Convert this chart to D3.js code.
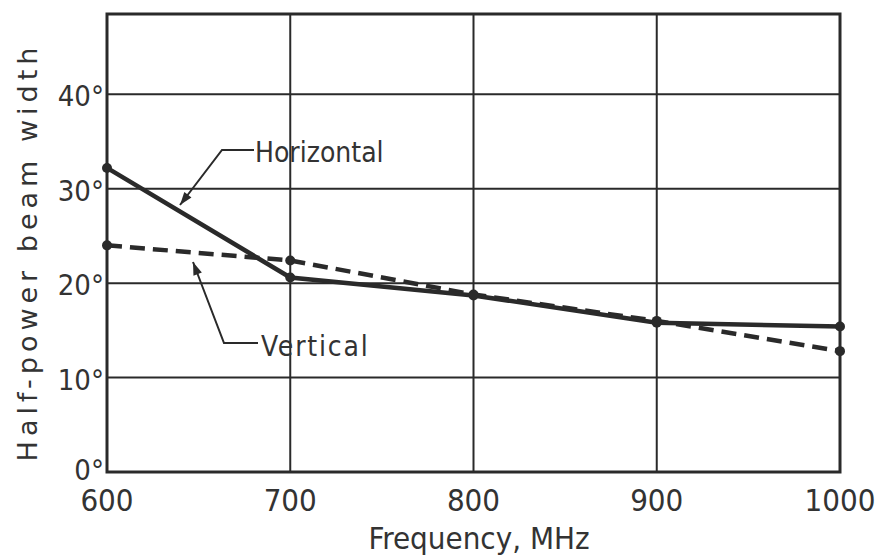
<!DOCTYPE html>
<html>
<head>
<meta charset="utf-8">
<script src="https://cdn.jsdelivr.net/npm/d3@7"></script>
<style>
  body { margin: 0; background: #fff; }
  text { font-family: "DejaVu Sans Condensed", "DejaVu Sans", sans-serif; fill: #333; }
</style>
</head>
<body>
<svg id="chart" width="878" height="557"></svg>
<script>
// Frequency, MHz
var frequencies = [600, 700, 800, 900, 1000];
// Half-power beam width, degrees
var horizontal = [32.2, 20.6, 18.7, 15.8, 15.4];
var vertical = [24.0, 22.4, 18.8, 16.0, 12.8];
var yTicks = [0, 10, 20, 30, 40];
var xTicks = [600, 700, 800, 900, 1000];

var svg = d3.select("#chart"),
    plotLeft = 107,
    plotRight = 840,
    plotTop = 14,
    plotBottom = 472;

var x = d3.scaleLinear().domain([600, 1000]).range([plotLeft, plotRight]),
    y = d3.scaleLinear().domain([0, 48.5]).range([plotBottom, plotTop]);

var ink = "#2a2a2a";

// Grid lines
svg.append("g").selectAll("line")
    .data(yTicks.slice(1))
    .enter().append("line")
    .attr("x1", plotLeft).attr("x2", plotRight)
    .attr("y1", function (d) { return y(d); })
    .attr("y2", function (d) { return y(d); })
    .style("stroke", ink).style("stroke-width", 2);

svg.append("g").selectAll("line")
    .data(xTicks.slice(1, -1))
    .enter().append("line")
    .attr("x1", function (d) { return x(d); })
    .attr("x2", function (d) { return x(d); })
    .attr("y1", plotTop).attr("y2", plotBottom)
    .style("stroke", ink).style("stroke-width", 2);

// Frame
svg.append("rect")
    .attr("x", plotLeft).attr("y", plotTop)
    .attr("width", plotRight - plotLeft).attr("height", plotBottom - plotTop)
    .style("fill", "none").style("stroke", ink).style("stroke-width", 3);

// Tick labels (the 0° label sits a little higher, clear of the 600 label)
svg.append("g").selectAll("text")
    .data(yTicks)
    .enter().append("text")
    .attr("x", plotLeft - 3)
    .attr("y", function (d) { return y(d) + (d === 0 ? 8 : 12); })
    .attr("text-anchor", "end")
    .style("font-size", "29px")
    .text(function (d) { return d + "°"; });

svg.append("g").selectAll("text")
    .data(xTicks)
    .enter().append("text")
    .attr("x", function (d) { return x(d); })
    .attr("y", 511)
    .attr("text-anchor", "middle")
    .style("font-size", "31px")
    .text(function (d) { return d; });

// Axis titles
svg.append("text")
    .attr("x", 479)
    .attr("y", 549)
    .attr("text-anchor", "middle")
    .style("font-size", "31px")
    .text("Frequency, MHz");

svg.append("text")
    .attr("transform", "translate(37,252) rotate(-90)")
    .attr("text-anchor", "middle")
    .style("font-family", "DejaVu Sans")
    .style("font-size", "27px")
    .style("letter-spacing", "5px")
    .text("Half-power beam width");

// Series
var line = d3.line()
    .x(function (d, i) { return x(frequencies[i]); })
    .y(function (d) { return y(d); });

svg.append("path")
    .datum(vertical)
    .attr("d", line)
    .style("fill", "none").style("stroke", ink)
    .style("stroke-width", 4.5).style("stroke-dasharray", "15,8");

svg.append("path")
    .datum(horizontal)
    .attr("d", line)
    .style("fill", "none").style("stroke", ink)
    .style("stroke-width", 4.5);

[horizontal, vertical].forEach(function (series) {
    svg.append("g").selectAll("circle")
        .data(series)
        .enter().append("circle")
        .attr("cx", function (d, i) { return x(frequencies[i]); })
        .attr("cy", function (d) { return y(d); })
        .attr("r", 5)
        .style("fill", ink);
});

// Leader labels
function leader(points, label, tx, ty, spacing) {
    svg.append("path")
        .attr("d", d3.line()(points))
        .style("fill", "none").style("stroke", ink).style("stroke-width", 2);
    var p = points[points.length - 1], q = points[points.length - 2],
        a = Math.atan2(p[1] - q[1], p[0] - q[0]) * 180 / Math.PI;
    svg.append("path")
        .attr("d", "M0,0L-13,-4.5L-13,4.5Z")
        .attr("transform", "translate(" + p[0] + "," + p[1] + ") rotate(" + a + ")")
        .style("fill", ink);
    svg.append("text")
        .attr("x", tx).attr("y", ty)
        .style("font-size", "28px")
        .style("letter-spacing", spacing + "px")
        .text(label);
}

leader([[254, 150], [222, 150], [180, 205]], "Horizontal", 255, 162, 0);
leader([[258, 343], [224, 343], [193, 262]], "Vertical", 261, 356, 1.8);
</script>
</body>
</html>
